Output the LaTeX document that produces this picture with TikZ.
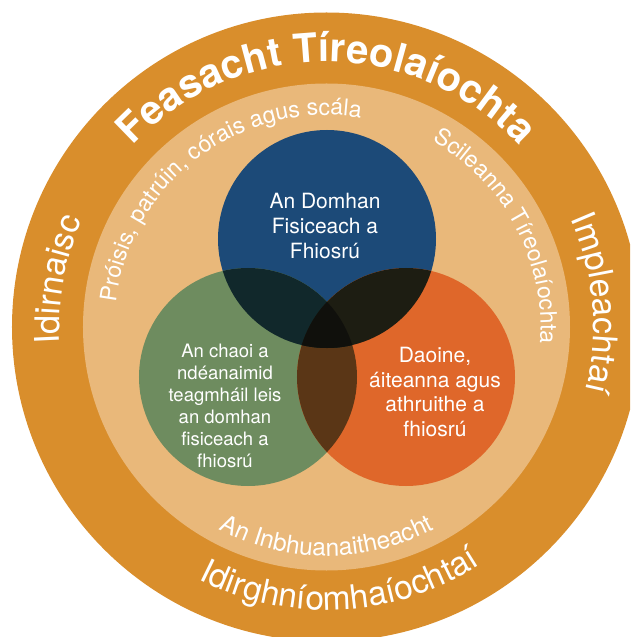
\documentclass[tikz,border=0pt]{standalone}
\usepackage{fontspec}
\setmainfont{TeX Gyre Heros}
\usetikzlibrary{decorations.text}
\definecolor{ringout}{RGB}{217,142,44}
\definecolor{ringin}{RGB}{233,184,122}
\definecolor{cblue}{RGB}{28,74,120}
\definecolor{cgreen}{RGB}{110,140,95}
\definecolor{corange}{RGB}{223,103,42}
\definecolor{cbg}{RGB}{17,40,43}
\definecolor{cbo}{RGB}{29,29,18}
\definecolor{cgo}{RGB}{90,54,22}
\definecolor{cbgo}{RGB}{16,16,12}
\begin{document}
\begin{tikzpicture}[x=1pt,y=1pt,
  arctext/.style={decorate, decoration={text along path, text align=center, text color=white, text={#1}}},
  venntext/.style={align=center, text=white, inner sep=0pt}]
\useasboundingbox (-326.5,-310) rectangle (303.5,327);
\clip (-326.5,-310) rectangle (303.5,327);
\fill[ringout] (0,0) circle (314.5);
\fill[ringin] (0,0) circle (243.5);
\def\rv{109}
\coordinate (B) at (0.5,88);
\coordinate (G) at (-78.5,-50);
\coordinate (O) at (79.5,-50);
\fill[cblue] (B) circle (\rv);
\fill[cgreen] (G) circle (\rv);
\fill[corange] (O) circle (\rv);
\begin{scope}
  \clip (G) circle (\rv);
  \fill[cgo] (O) circle (\rv);
\end{scope}
\begin{scope}
  \clip (B) circle (\rv);
  \fill[cbg] (G) circle (\rv);
  \fill[cbo] (O) circle (\rv);
  \clip (G) circle (\rv);
  \fill[cbgo] (O) circle (\rv);
\end{scope}
% outer ring texts
\path[arctext={|\bfseries\fontsize{40}{48}\selectfont|Feasacht Tíreolaíochta}]
  (160:265) arc[start angle=160, end angle=20, radius=265];
\path[arctext={|\fontsize{34}{40}\selectfont|Idirnaisc}]
  (240:267) arc[start angle=240, end angle=100, radius=267];
\path[arctext={|\fontsize{34}{40}\selectfont|Impleachtaí}]
  (75:267) arc[start angle=75, end angle=-65, radius=267];
\path[arctext={|\fontsize{33.5}{40}\selectfont|Idirghníomhaíochtaí}]
  (-162:283) arc[start angle=-162, end angle=-12, radius=283];
% inner band texts
\path[arctext={|\fontsize{23}{28}\selectfont|Próisis, patrúin, córais agus scála}]
  (202:212) arc[start angle=202, end angle=52, radius=212];
\path[arctext={|\fontsize{23}{28}\selectfont|Scileanna Tíreolaíochta}]
  (100:214) arc[start angle=100, end angle=-44, radius=214];
\path[arctext={|\fontsize{24.5}{28}\selectfont|An Inbhuanaitheacht}]
  (-160:229) arc[start angle=-160, end angle=-20, radius=229];
% venn texts
\node[venntext, font=\fontsize{21}{25}\selectfont] (tblue) at (-1.5,101) {An Domhan\\Fisiceach a\\Fhiosrú};
\node[venntext, font=\fontsize{18.5}{22}\selectfont] (tgreen) at (-101.5,-79) {An chaoi a\\ndéanaimid\\teagmháil leis\\an domhan\\fisiceach a\\fhiosrú};
\node[venntext, font=\fontsize{21}{24.7}\selectfont] (torange) at (108.5,-65) {Daoine,\\áiteanna agus\\athruithe a\\fhiosrú};
\end{tikzpicture}
\end{document}
